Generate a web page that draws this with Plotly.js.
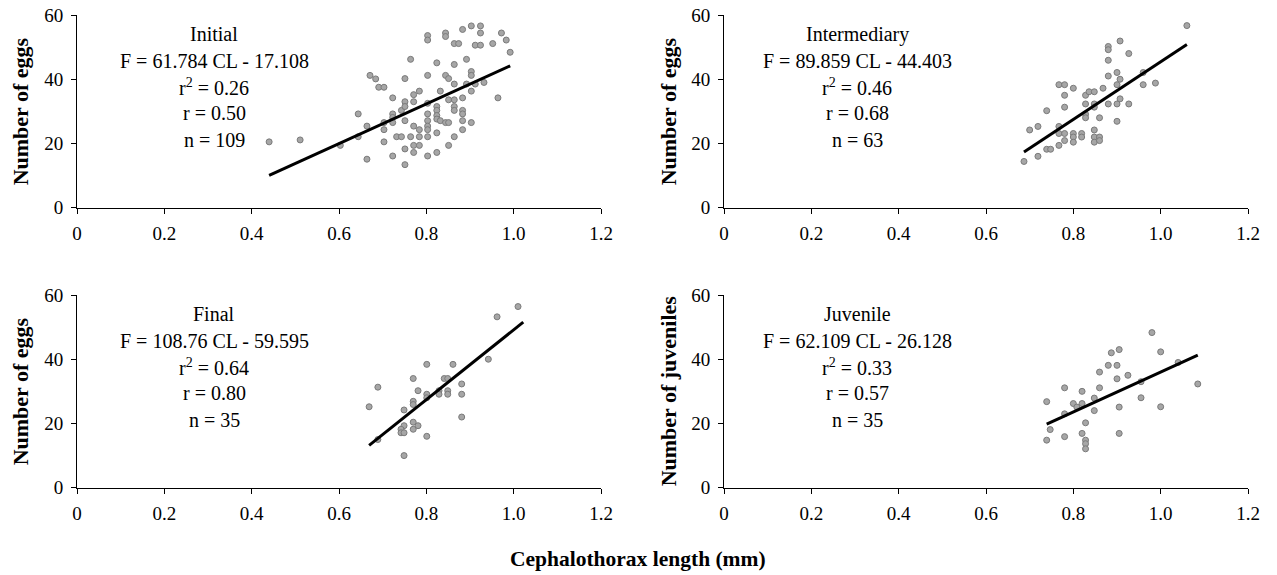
<!DOCTYPE html>
<html>
<head>
<meta charset="utf-8">
<script src="https://cdn.plot.ly/plotly-3.0.1.min.js"></script>
<style>html,body{margin:0;padding:0;background:#fff;}#chart{width:1277px;height:575px;}</style>
</head>
<body>
<div id="chart"></div>
<script>
// ---------- DATA ----------
const initialCL = [0.440,0.511,0.603,0.644,0.644,0.664,0.664,0.671,0.684,0.691,0.703,0.703,0.703,0.703,
  0.723,0.723,0.723,0.723,0.723,0.732,0.743,0.743,0.751,0.751,0.751,0.751,0.751,0.751,0.764,0.764,
  0.771,0.771,0.771,0.771,0.771,0.784,0.784,0.784,0.784,0.803,0.803,0.803,0.803,0.803,0.803,0.803,0.803,0.803,0.803,
  0.824,0.824,0.824,0.824,0.824,0.824,0.824,0.832,0.832,0.844,0.844,0.844,0.844,0.851,0.851,0.851,0.851,
  0.864,0.874,0.864,0.864,0.864,0.864,0.864,0.864,0.883,0.883,0.883,0.883,0.883,0.883,0.892,0.892,
  0.903,0.903,0.903,0.903,0.903,0.924,0.924,0.912,0.924,0.912,0.932,0.952,0.964,0.972,0.983,0.992];
const initialEggs = [20.5,21.1,19.4,29.2,22.1,25.4,15.1,41.2,40.1,37.5,37.5,26.5,24.3,20.5,
  34.2,29.2,28.1,26.5,16.1,22.1,22.1,30.3,40.2,33.0,31.5,27.1,18.3,13.4,46.2,22.1,
  35.2,33.0,25.4,19.4,17.2,36.3,24.3,22.1,19.4,53.6,52.2,41.2,32.5,29.2,27.1,25.4,24.3,22.1,16.1,
  45.1,31.5,30.3,28.7,27.6,23.3,17.2,36.3,27.1,54.4,53.3,41.2,26.5,40.2,33.6,26.5,19.4,
  51.1,51.1,44.6,38.5,33.6,31.5,30.3,22.1,34.2,30.3,29.2,27.1,24.3,55.5,46.2,38.5,
  42.4,41.2,36.3,26.5,56.6,56.6,54.4,50.6,50.6,38.5,39.0,51.1,34.2,54.4,52.2,48.4];

const intermCL = [0.687,0.700,0.719,0.719,0.739,0.739,0.748,0.767,0.780,0.780,0.780,0.767,0.767,0.767,0.780,0.780,
  0.800,0.800,0.800,0.800,0.819,0.819,0.828,0.828,0.828,0.828,0.836,0.848,0.848,0.848,0.848,0.848,0.848,
  0.860,0.860,0.860,0.868,0.880,0.880,0.880,0.880,0.880,0.900,0.900,0.900,0.900,0.907,0.907,0.907,
  0.927,0.927,0.960,0.960,0.988,1.060];
const intermEggs = [14.4,24.2,25.3,16.0,30.2,18.2,18.2,38.3,38.3,35.0,31.3,25.3,23.1,19.4,23.1,20.9,
  37.2,23.1,22.0,20.4,23.1,22.0,35.0,32.3,29.1,28.0,36.1,36.1,32.3,31.3,24.2,22.0,20.4,
  22.0,20.9,28.0,37.2,50.2,49.2,45.9,41.0,32.3,42.1,38.3,32.3,26.9,51.9,40.0,33.9,
  48.0,32.3,42.1,38.3,38.8,56.7];

const finalCL = [1.022,1.010,0.962,0.942,0.861,0.801,0.770,0.841,0.849,0.881,0.689,0.781,0.801,0.801,
  0.829,0.829,0.849,0.849,0.881,0.770,0.770,0.669,0.749,0.881,0.770,0.781,0.770,0.749,0.742,0.742,
  0.749,0.801,0.689,0.749];
const finalEggs = [60.2,56.4,53.2,40.0,38.4,38.4,34.0,34.0,34.0,32.3,31.3,30.2,29.1,28.0,
  30.2,29.1,30.2,29.1,29.1,26.9,25.9,25.2,24.2,22.0,20.4,19.3,18.2,19.3,18.2,17.1,
  17.1,16.0,15.0,10.0];

const juvCL = [0.739,0.739,0.747,0.780,0.780,0.780,0.800,0.808,0.820,0.820,0.820,0.828,0.828,0.828,0.828,
  0.848,0.848,0.860,0.860,0.880,0.900,0.887,0.905,0.900,0.905,0.905,
  0.925,0.955,0.955,0.980,1.000,1.000,1.040,1.085];
const juvYoung = [26.8,14.8,18.1,31.1,23.0,15.9,26.2,25.1,30.0,26.2,16.9,20.2,14.8,13.7,12.1,
  27.9,24.0,36.0,31.1,38.1,38.1,42.0,43.0,33.9,25.1,16.9,
  35.0,33.0,28.0,48.3,42.3,25.2,39.0,32.3];

// regression: [slope, intercept]
const fitInitial = [61.784, -17.108];
const fitInterm  = [89.859, -44.403];
const fitFinal   = [108.76, -59.595];
const fitJuv     = [62.109, -26.128];

const panelTitles = ["Initial","Intermediary","Final","Juvenile"];
const eqTexts = ["F = 61.784 CL - 17.108","F = 89.859 CL - 44.403","F = 108.76 CL - 59.595","F = 62.109 CL - 26.128"];
const r2Texts = ["0.26","0.46","0.64","0.33"];
const rTexts = ["0.50","0.68","0.80","0.57"];
const nTexts = ["109","63","35","35"];
const yTitles = ["Number of eggs","Number of eggs","Number of eggs","Number of juveniles"];
const xTitle = "Cephalothorax length (mm)";
const xTickVals = [0,0.2,0.4,0.6,0.8,1.0,1.2];
const xTickText = ["0","0.2","0.4","0.6","0.8","1.0","1.2"];
const yTickVals = [0,20,40,60];
const yTickText = ["0","20","40","60"];

// ---------- BUILD ----------
const W = 1277, H = 575;
const FONT = "Liberation Serif, Times New Roman, serif";
const sets = [
  {x: initialCL, y: initialEggs, fit: fitInitial},
  {x: intermCL, y: intermEggs, fit: fitInterm},
  {x: finalCL, y: finalEggs, fit: fitFinal},
  {x: juvCL, y: juvYoung, fit: fitJuv}
];
const axisIds = [["x","y"],["x2","y2"],["x3","y3"],["x4","y4"]];
const traces = [];
sets.forEach((s, i) => {
  const [xa, ya] = axisIds[i];
  traces.push({
    type: "scatter", mode: "markers", x: s.x, y: s.y, xaxis: xa, yaxis: ya,
    marker: {size: 6, color: "#a6a6a6", line: {color: "#7a7a7a", width: 1}},
    hoverinfo: "x+y", showlegend: false, cliponaxis: false
  });
  const xmin = Math.min(...s.x), xmax = Math.max(...s.x);
  traces.push({
    type: "scatter", mode: "lines", x: [xmin, xmax],
    y: [s.fit[0]*xmin + s.fit[1], s.fit[0]*xmax + s.fit[1]],
    xaxis: xa, yaxis: ya, line: {color: "#000", width: 3}, showlegend: false, hoverinfo: "skip"
  });
});

// plot area pixel boxes [left, right, top, bottom]
const boxes = [[77,601,15,207.7],[724,1248,15,207.7],[77,601,295,487.7],[724,1248,295,487.7]];
const layout = {
  width: W, height: H, margin: {l:0, r:0, t:0, b:0},
  paper_bgcolor: "#fff", plot_bgcolor: "#fff",
  font: {family: FONT, color: "#000", size: 19},
  showlegend: false, annotations: []
};
const xAxisBase = {
  range: [0,1.2], tickvals: xTickVals, ticktext: xTickText, showgrid: false, zeroline: false,
  showline: true, linecolor: "#000", linewidth: 1, ticks: "outside", ticklen: 5, tickcolor: "#000",
  tickfont: {family: FONT, size: 19, color: "#000"}, ticklabelstandoff: 3, fixedrange: true
};
const yAxisBase = {
  range: [0,60], tickvals: yTickVals, ticktext: yTickText, showgrid: false, zeroline: false,
  showline: true, linecolor: "#000", linewidth: 1, ticks: "outside", ticklen: 5, tickcolor: "#000",
  tickfont: {family: FONT, size: 19, color: "#000"}, ticklabelstandoff: 4, fixedrange: true
};
boxes.forEach((b, i) => {
  const n = i === 0 ? "" : String(i+1);
  layout["xaxis"+n] = Object.assign({}, xAxisBase, {domain: [b[0]/W, b[1]/W], anchor: "y"+n});
  layout["yaxis"+n] = Object.assign({}, yAxisBase, {domain: [1-b[3]/H, 1-b[2]/H], anchor: "x"+n});
  const cx = [214, 857, 214, 857][i];
  const lines = [panelTitles[i], eqTexts[i], "r<sup>2</sup> = " + r2Texts[i], "r = " + rTexts[i], "n = " + nTexts[i]];
  const offs = [19, 46, 72, 98.3, 124.5];
  lines.forEach((t, k) => {
    layout.annotations.push({
      text: t, xref: "paper", yref: "paper", x: cx/W, y: 1-(b[2]+offs[k])/H,
      xanchor: "center", yanchor: "middle", showarrow: false,
      font: {family: FONT, size: 20, color: "#000"}
    });
  });
  const tx = i % 2 === 0 ? 20 : 668;
  layout.annotations.push({
    text: "<b>" + yTitles[i] + "</b>", xref: "paper", yref: "paper",
    x: tx/W, y: 1-((b[2]+b[3])/2)/H, xanchor: "center", yanchor: "middle",
    textangle: -90, showarrow: false, font: {family: FONT, size: 22, color: "#000"}
  });
});
layout.annotations.push({
  text: "<b>" + xTitle + "</b>", xref: "paper", yref: "paper", x: 638/W, y: 1-559/H,
  xanchor: "center", yanchor: "middle", showarrow: false, font: {family: FONT, size: 21.5, color: "#000"}
});

Plotly.newPlot("chart", traces, layout, {displayModeBar: false, staticPlot: true});
</script>
</body>
</html>
